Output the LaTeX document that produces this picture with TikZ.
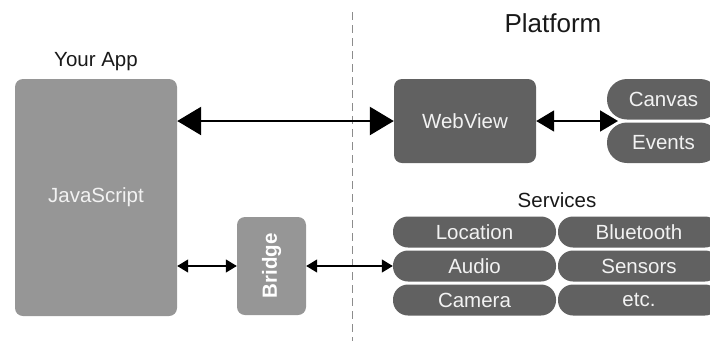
\documentclass[tikz,border=0pt]{standalone}
\usepackage{fontspec}
\setmainfont{Liberation Sans}
\usetikzlibrary{arrows.meta}
\definecolor{applight}{HTML}{969696}
\definecolor{platdark}{HTML}{616161}
\definecolor{boxtext}{HTML}{F2F2F2}
\newcommand{\lbl}{\fontsize{20.5}{24}\selectfont}
\tikzset{
  appbox/.style={rectangle, rounded corners=8pt, fill=applight, text=boxtext, inner sep=0pt, font=\lbl},
  platbox/.style={rectangle, rounded corners=8pt, fill=platdark, text=boxtext, inner sep=0pt, font=\lbl},
  pill/.style={rectangle, rounded corners=15pt, fill=platdark, text=boxtext, inner sep=0pt,
    minimum height=31pt, font=\lbl},
  heading/.style={anchor=base, text=black!90, inner sep=0pt, font=\lbl},
  bigarrow/.style={{Triangle[length=24pt,width=28pt]}-{Triangle[length=24pt,width=28pt]}, line width=2.5pt},
  midarrow/.style={{Triangle[length=18pt,width=21pt]}-{Triangle[length=18pt,width=21pt]}, line width=1.8pt},
  smallarrow/.style={{Triangle[length=11pt,width=13pt]}-{Triangle[length=11pt,width=13pt]}, line width=1.2pt},
  divider/.style={draw=black!45, line width=0.9pt, dash pattern=on 8pt off 5pt}
}

\begin{document}
\begin{tikzpicture}[x=1pt, y=-1pt]
    \useasboundingbox (0,0) rectangle (710,341);
    % app / platform split
    \draw[divider] (352,12) -- (352,341);
    % headings
    \node[heading] (yourapp) at (96,66) {Your App};
    \node[heading, font=\fontsize{26}{31}\selectfont] (platform) at (553,32) {Platform};
    \node[heading] (services) at (557,207) {Services};
    % your app
    \node[appbox, minimum width=162pt, minimum height=237pt] (js) at (96,197.5) {JavaScript};
    \node[appbox, rotate=90, minimum width=98pt, minimum height=69pt,
          font=\lbl\bfseries, text=white] (bridge) at (271.5,266) {Bridge};
    % platform
    \node[platbox, minimum width=142pt, minimum height=84pt] (webview) at (465,121) {WebView};
    \node[pill, rounded corners=20pt, minimum width=113pt, minimum height=40.5pt] (canvas) at (663.5,99.25) {Canvas};
    \node[pill, rounded corners=20pt, minimum width=113pt, minimum height=40.5pt] (events) at (663.5,142.75) {Events};
    \coordinate (hub) at (618,121);
    % services, column 1
    \node[pill, minimum width=163pt] (location) at (474.5,232) {Location};
    \node[pill, minimum width=163pt] (audio) at (474.5,266) {Audio};
    \node[pill, minimum width=163pt] (camera) at (474.5,300) {Camera};
    % services, column 2
    \node[pill, minimum width=162pt] (bluetooth) at (639,232) {Bluetooth};
    \node[pill, minimum width=162pt] (sensors) at (639,266) {Sensors};
    \node[pill, minimum width=162pt] (etc) at (639,300) {etc.};
    % links
    \draw[bigarrow] (webview.west -| js.east) -- (webview.west);
    \draw[midarrow] (webview.east) -- (hub);
    \draw[smallarrow] (bridge.north -| js.east) -- (bridge.north);
    \draw[smallarrow] (bridge.south) -- (audio.west);
\end{tikzpicture}
\end{document}
